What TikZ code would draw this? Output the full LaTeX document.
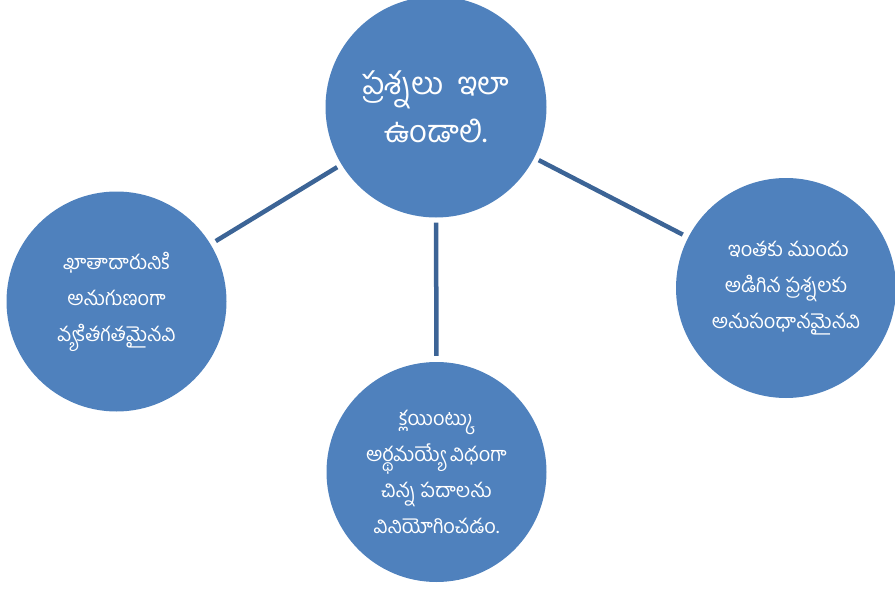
\documentclass[tikz,border=0pt]{standalone}
\usepackage{fontspec}
\newfontfamily\telugu[Script=Telugu]{Hind Guntur}
\usetikzlibrary{positioning}
\definecolor{bubble}{HTML}{4F81BD}
\definecolor{link}{HTML}{3C6496}
\tikzstyle{topic} = [circle, minimum size=221pt, inner sep=0pt, fill=bubble, text=white, align=center, font={\telugu\fontsize{31}{48}\selectfont}]
\tikzstyle{point} = [circle, minimum size=220pt, inner sep=0pt, fill=bubble, text=white, align=center, font={\telugu\fontsize{20}{36}\selectfont}]
\tikzstyle{line} = [line width=4.5pt, draw=link, shorten <=5pt, shorten >=6pt]

\begin{document}
\begin{tikzpicture}[x=1pt, y=-1pt]
\useasboundingbox (0,0) rectangle (895,594);

\node (main) [topic] at (436,107) {ప్రశ్నలు\ \ ఇలా\\ఉండాలి.};
\node (client) [point] at (116.5,301.5) {ఖాతాదారునికి\\అనుగుణంగా\\వ్యకితగతమైనవి};
\node (words) [point] at (436.5,472) {క్లయింట్కు\\అర్థమయ్యే విధంగా\\చిన్న పదాలను\\వినియోగించడం.};
\node (earlier) [point] at (786,288) {\ ఇంతకు ముందు\\అడిగిన ప్రశ్నలకు\\అనుసంధానమైనవి};

\draw [line] (main) -- (client);
\draw [line] (main) -- (words);
\draw [line] (main) -- (earlier);

\end{tikzpicture}
\end{document}
